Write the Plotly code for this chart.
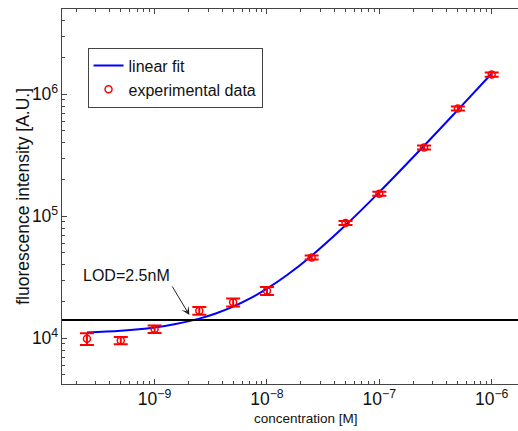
import plotly.graph_objects as go

# concentrations [M]
conc = [2.5e-10, 5e-10, 1e-9, 2.5e-9, 5e-9, 1e-8, 2.5e-8, 5e-8, 1e-7, 2.5e-7, 5e-7, 1e-6]
# measured fluorescence [A.U.]
fluo = [9.9e3, 9.6e3, 1.19e4, 1.68e4, 1.97e4, 2.45e4, 4.6e4, 8.8e4, 1.53e5, 3.66e5, 7.64e5, 1.45e6]
fluo_err = [1100, 650, 850, 1250, 1500, 1850, 1700, 3300, 5800, 14000, 29000, 55000]

# linear fit curve
fit_conc = [2.5e-10, 5e-10, 1e-9, 1.5e-9, 2.5e-9, 3.5e-9, 5e-9, 7e-9, 1e-8, 1.5e-8,
            2.5e-8, 5e-8, 1e-7, 2.5e-7, 5e-7, 1e-6]
fit_fluo = [11170, 11540, 12270, 13010, 14480, 15950, 18150, 21090, 25500, 32850,
            47550, 84300, 157800, 378300, 745800, 1480800]

lod_level = 1.41e4
lod_label = "LOD=2.5nM"
lod_text_pos = (5.6e-10, 3.25e4)
lod_arrow_tip = (2.04e-9, 1.55e4)

import math
FONT = "Liberation Sans, Arial, sans-serif"
AX = "#444444"

fig = go.Figure()
fig.add_trace(go.Scatter(
    x=fit_conc, y=fit_fluo, mode="lines", name="linear fit",
    line=dict(color="#0000ff", width=2, shape="spline"),
))
fig.add_trace(go.Scatter(
    x=conc, y=fluo, mode="markers", name="experimental data",
    marker=dict(symbol="circle-open", color="#ff0000", size=7, line=dict(width=1.5, color="#ff0000")),
    error_y=dict(type="data", array=fluo_err, color="#ff0000", thickness=2, width=7),
))

fig.add_shape(type="line", xref="x domain", yref="y", x0=0, x1=1, y0=lod_level, y1=lod_level,
              line=dict(color="black", width=2))

fig.add_annotation(x=math.log10(lod_text_pos[0]), y=math.log10(lod_text_pos[1]), xref="x", yref="y",
                   text=lod_label, showarrow=False,
                   font=dict(family=FONT, size=16, color="#111111"))
fig.add_annotation(x=math.log10(lod_arrow_tip[0]), y=math.log10(lod_arrow_tip[1]), xref="x", yref="y",
                   text="", showarrow=True, ax=-18, ay=-30, arrowhead=3, arrowsize=1.4,
                   arrowwidth=1, arrowcolor="#222222")

fig.add_annotation(x=0.535, y=-0.0907, xref="paper", yref="paper", text="concentration [M]",
                   showarrow=False, xanchor="center", yanchor="middle",
                   font=dict(family=FONT, size=13.5, color="#111111"))
fig.add_annotation(x=-0.087, y=0.5, xref="paper", yref="paper", text="fluorescence intensity [A.U.]",
                   showarrow=False, xanchor="center", yanchor="middle", textangle=-90,
                   font=dict(family=FONT, size=17.5, color="#111111"))

fig.update_xaxes(type="log", range=[-9.824, -5.766], dtick=1, exponentformat="power",
                 showline=True, linecolor=AX, linewidth=1, mirror="ticks",
                 ticks="inside", ticklen=5, tickcolor=AX,
                 minor=dict(ticks="inside", ticklen=3, tickcolor=AX),
                 showgrid=False, zeroline=False,
                 tickfont=dict(family=FONT, size=14, color="#111111"))
fig.update_yaxes(type="log", range=[3.625, 6.699], dtick=1, exponentformat="power",
                 showline=True, linecolor=AX, linewidth=1, mirror=False,
                 ticks="inside", ticklen=5, tickcolor=AX,
                 minor=dict(ticks="inside", ticklen=3, tickcolor=AX),
                 showgrid=False, zeroline=False,
                 tickfont=dict(family=FONT, size=14, color="#111111"))

fig.update_layout(
    width=518, height=431,
    margin=dict(l=62, r=0, t=9, b=47),
    paper_bgcolor="white", plot_bgcolor="white",
    font=dict(family=FONT, size=14, color="#111111"),
    showlegend=True,
    legend=dict(x=0.056, y=0.897, xanchor="left", yanchor="top",
                bgcolor="white", bordercolor=AX, borderwidth=1,
                font=dict(family=FONT, size=16, color="#111111")),
)

fig.write_html("out.html")
